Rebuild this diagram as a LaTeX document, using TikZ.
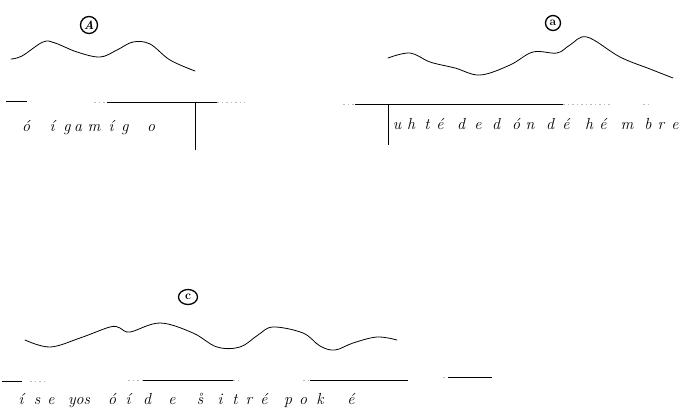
\documentclass[tikz,border=0pt]{standalone}
\usetikzlibrary{shapes.geometric}
\begin{document}
\begin{tikzpicture}[x=1pt,y=-1pt,
  contour/.style={line width=0.8pt, line cap=round, line join=round},
  baseln/.style={line width=0.8pt},
  faint/.style={line width=0.6pt, gray!55, dash pattern=on 1.5pt off 3pt},
  tick/.style={line width=0.8pt},
  letter/.style={inner sep=0pt, font=\fontsize{16}{18}\selectfont\itshape, anchor=base},
  lab/.style={draw, line width=1.3pt, inner sep=0pt, font=\bfseries\fontsize{12}{12}\selectfont}]
\useasboundingbox (0,0) rectangle (690,410);

% ---- A ----
\node[lab, circle, minimum size=17pt] (labA) at (89,25) {\itshape A};
\draw[contour] plot[smooth, tension=0.6] coordinates {(11,59) (22,56) (43,42) (55,43) (77,52) (100,57) (117,50) (133,42) (150,44) (170,60) (195,71)};
\coordinate (a1) at (6,101);  \coordinate (a2) at (27,101);
\coordinate (a3) at (94,102); \coordinate (a4) at (107,102);
\coordinate (a5) at (217,102); \coordinate (a6) at (245,102);
\draw[baseln] (a1) -- (a2);
\draw[faint] (a3) -- (a4);
\draw[baseln] (a4) -- (a5);
\draw[faint] (a5) -- (a6);
\coordinate (av1) at (195,102); \coordinate (av2) at (195,150);
\draw[tick] (av1) -- (av2);
\foreach \px/\ch [count=\i] in {26/ó,52/í,67/g,78/a,94/m,111/í,125/g,151/o}
  \node[letter] (ta\i) at (\px,131) {\ch};

% ---- B ----
\node[lab, circle, minimum size=15pt] (labB) at (553,23) {a};
\draw[contour] plot[smooth, tension=0.6] coordinates {(388,58) (410,53) (430,62) (455,68) (480,75) (510,65) (533,52) (557,53) (570,45) (587,37) (620,57) (650,69) (673,78)};
\coordinate (b1) at (343,104); \coordinate (b2) at (355,104);
\coordinate (b3) at (563,104); \coordinate (b4) at (610,104);
\coordinate (b5) at (643,104); \coordinate (b6) at (651,104);
\draw[faint] (b1) -- (b2);
\draw[baseln] (b2) -- (b3);
\draw[faint] (b3) -- (b4);
\draw[faint] (b5) -- (b6);
\coordinate (bv1) at (388,104); \coordinate (bv2) at (388,145);
\draw[tick] (bv1) -- (bv2);
\foreach \px/\ch [count=\i] in {397/u,411/h,427/t,440/é,461/d,478/e,496/d,516/ó,530/n,550/d,566/é,589/h,603/é,627/m,648/b,661/r,675/e}
  \node[letter] (tb\i) at (\px,129) {\ch};

% ---- C ----
\node[lab, ellipse, minimum width=19pt, minimum height=15pt] (labC) at (188,297) {c};
\draw[contour] plot[smooth, tension=0.6] coordinates {(25,340) (50,347) (80,338) (110,327) (120,328) (130,332) (160,323) (193,333) (217,347) (240,347) (258,335) (273,327) (303,333) (320,346) (335,350) (353,343) (377,337) (397,340)};
\coordinate (c1) at (2,381);   \coordinate (c2) at (22,381);
\coordinate (c3) at (30,381);  \coordinate (c4) at (48,381);
\coordinate (c5) at (128,380); \coordinate (c6) at (143,380);
\coordinate (c7) at (233,380); \coordinate (c8) at (240,380);
\coordinate (c9) at (303,380); \coordinate (c10) at (310,380);
\coordinate (c11) at (408,380);
\coordinate (c12) at (443,377); \coordinate (c13) at (448,377); \coordinate (c14) at (492,377);
\draw[baseln] (c1) -- (c2);
\draw[faint] (c3) -- (c4);
\draw[faint] (c5) -- (c6);
\draw[baseln] (c6) -- (c7);
\draw[faint] (c7) -- (c8);
\draw[faint] (c9) -- (c10);
\draw[baseln] (c10) -- (c11);
\draw[faint] (c12) -- (c13);
\draw[baseln] (c13) -- (c14);
\foreach \px/\ch [count=\i] in {21/í,37/s,51/e,79/yos,112/ó,128/í,147/d,172/e,200/\r{s},220/i,235/t,249/r,264/é,288/p,303/o,320/k,351/é}
  \node[letter] (tc\i) at (\px,404) {\ch};
\end{tikzpicture}
\end{document}
